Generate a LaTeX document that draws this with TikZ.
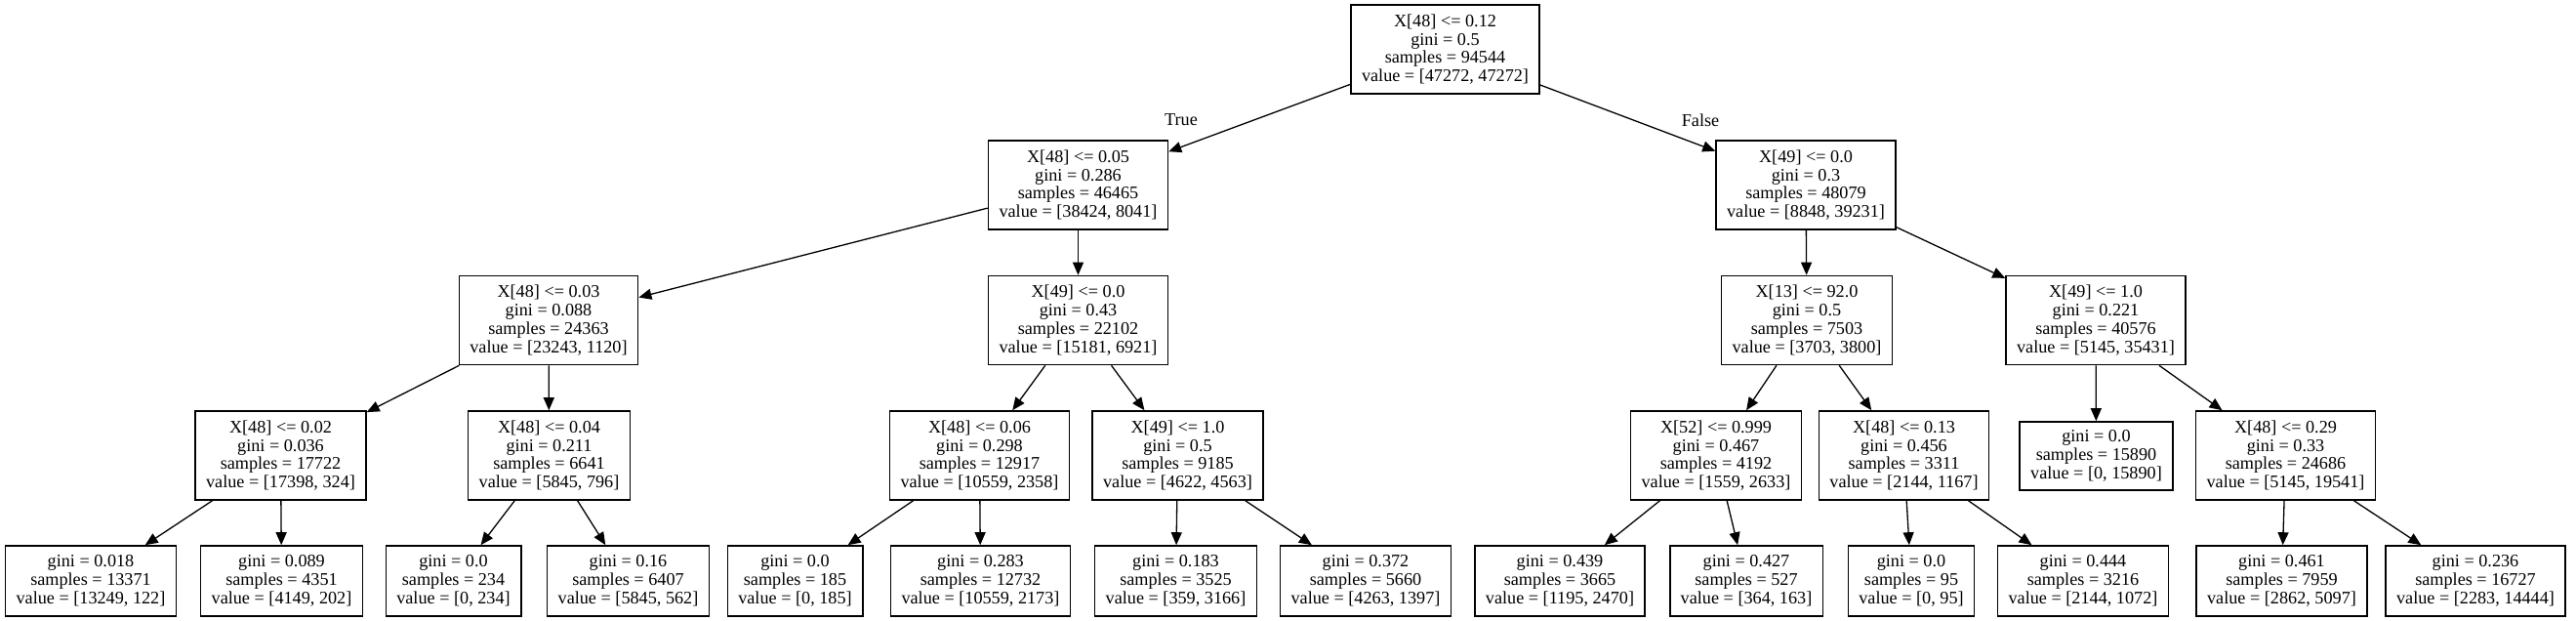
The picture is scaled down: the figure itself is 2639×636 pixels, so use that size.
\documentclass[tikz,border=0pt]{standalone}
\usepackage{fontspec}
\setmainfont{Liberation Serif}
\usetikzlibrary{arrows.meta}
\begin{document}
\begin{tikzpicture}[x=1pt,y=-1pt,
  every node/.style={font=\fontsize{18.2pt}{18.8pt}\selectfont},
  split/.style={draw,line width=1.6pt,rectangle,align=center,inner xsep=11pt,inner ysep=0pt,minimum height=91pt},
  leaf/.style={draw,line width=1.6pt,rectangle,align=center,inner xsep=11pt,inner ysep=0pt,minimum height=72pt},
  edge/.style={line width=1.3pt,-{Triangle[length=13pt,width=11pt]}},
  elabel/.style={inner sep=0pt}]
\useasboundingbox (0,0) rectangle (2639,636);
% level 0
\node[split] (root) at (1480.5,50.5) {X[48] <= 0.12\\gini = 0.5\\samples = 94544\\value = [47272, 47272]};
% level 1
\node[split] (l1) at (1104.5,189.5) {X[48] <= 0.05\\gini = 0.286\\samples = 46465\\value = [38424, 8041]};
\node[split] (r1) at (1850,189.5) {X[49] <= 0.0\\gini = 0.3\\samples = 48079\\value = [8848, 39231]};
% level 2
\node[split] (ll) at (562,328) {X[48] <= 0.03\\gini = 0.088\\samples = 24363\\value = [23243, 1120]};
\node[split] (lr) at (1104.5,328) {X[49] <= 0.0\\gini = 0.43\\samples = 22102\\value = [15181, 6921]};
\node[split] (rl) at (1851,328) {X[13] <= 92.0\\gini = 0.5\\samples = 7503\\value = [3703, 3800]};
\node[split] (rr) at (2147,328) {X[49] <= 1.0\\gini = 0.221\\samples = 40576\\value = [5145, 35431]};
% level 3
\node[split] (a) at (287.5,466.5) {X[48] <= 0.02\\gini = 0.036\\samples = 17722\\value = [17398, 324]};
\node[split] (b) at (562.5,466.5) {X[48] <= 0.04\\gini = 0.211\\samples = 6641\\value = [5845, 796]};
\node[split] (c) at (1003.5,466.5) {X[48] <= 0.06\\gini = 0.298\\samples = 12917\\value = [10559, 2358]};
\node[split] (d) at (1206.5,466.5) {X[49] <= 1.0\\gini = 0.5\\samples = 9185\\value = [4622, 4563]};
\node[split] (e) at (1758,466.5) {X[52] <= 0.999\\gini = 0.467\\samples = 4192\\value = [1559, 2633]};
\node[split] (f) at (1950.5,466.5) {X[48] <= 0.13\\gini = 0.456\\samples = 3311\\value = [2144, 1167]};
\node[leaf,minimum height=70pt] (g) at (2147.5,467) {gini = 0.0\\samples = 15890\\value = [0, 15890]};
\node[split] (h) at (2341.5,466.5) {X[48] <= 0.29\\gini = 0.33\\samples = 24686\\value = [5145, 19541]};
% level 4
\node[leaf] (n1) at (93,595) {gini = 0.018\\samples = 13371\\value = [13249, 122]};
\node[leaf] (n2) at (288.5,595) {gini = 0.089\\samples = 4351\\value = [4149, 202]};
\node[leaf] (n3) at (464.5,595) {gini = 0.0\\samples = 234\\value = [0, 234]};
\node[leaf] (n4) at (643.5,595) {gini = 0.16\\samples = 6407\\value = [5845, 562]};
\node[leaf] (n5) at (814.5,595) {gini = 0.0\\samples = 185\\value = [0, 185]};
\node[leaf] (n6) at (1004.5,595) {gini = 0.283\\samples = 12732\\value = [10559, 2173]};
\node[leaf] (n7) at (1204.5,595) {gini = 0.183\\samples = 3525\\value = [359, 3166]};
\node[leaf] (n8) at (1399,595) {gini = 0.372\\samples = 5660\\value = [4263, 1397]};
\node[leaf] (n9) at (1598,595) {gini = 0.439\\samples = 3665\\value = [1195, 2470]};
\node[leaf] (n10) at (1789,595) {gini = 0.427\\samples = 527\\value = [364, 163]};
\node[leaf] (n11) at (1958,595) {gini = 0.0\\samples = 95\\value = [0, 95]};
\node[leaf] (n12) at (2134,595) {gini = 0.444\\samples = 3216\\value = [2144, 1072]};
\node[leaf] (n13) at (2337.5,595) {gini = 0.461\\samples = 7959\\value = [2862, 5097]};
\node[leaf] (n14) at (2536,595) {gini = 0.236\\samples = 16727\\value = [2283, 14444]};
% labels
\node[elabel] (tl) at (1210,123) {True};
\node[elabel] (fl) at (1742,123) {False};
% edges
\draw[edge] (root) -- (l1);
\draw[edge] (root) -- (r1);
\draw[edge] (l1) -- (ll);
\draw[edge] (l1) -- (lr);
\draw[edge] (r1) -- (rl);
\draw[edge] (r1) -- (rr);
\draw[edge] (ll) -- (a);
\draw[edge] (ll) -- (b);
\draw[edge] (lr) -- (c);
\draw[edge] (lr) -- (d);
\draw[edge] (rl) -- (e);
\draw[edge] (rl) -- (f);
\draw[edge] (rr) -- (g);
\draw[edge] (rr) -- (h);
\draw[edge] (a) -- (n1);
\draw[edge] (a) -- (n2);
\draw[edge] (b) -- (n3);
\draw[edge] (b) -- (n4);
\draw[edge] (c) -- (n5);
\draw[edge] (c) -- (n6);
\draw[edge] (d) -- (n7);
\draw[edge] (d) -- (n8);
\draw[edge] (e) -- (n9);
\draw[edge] (e) -- (n10);
\draw[edge] (f) -- (n11);
\draw[edge] (f) -- (n12);
\draw[edge] (h) -- (n13);
\draw[edge] (h) -- (n14);
\end{tikzpicture}
\end{document}
